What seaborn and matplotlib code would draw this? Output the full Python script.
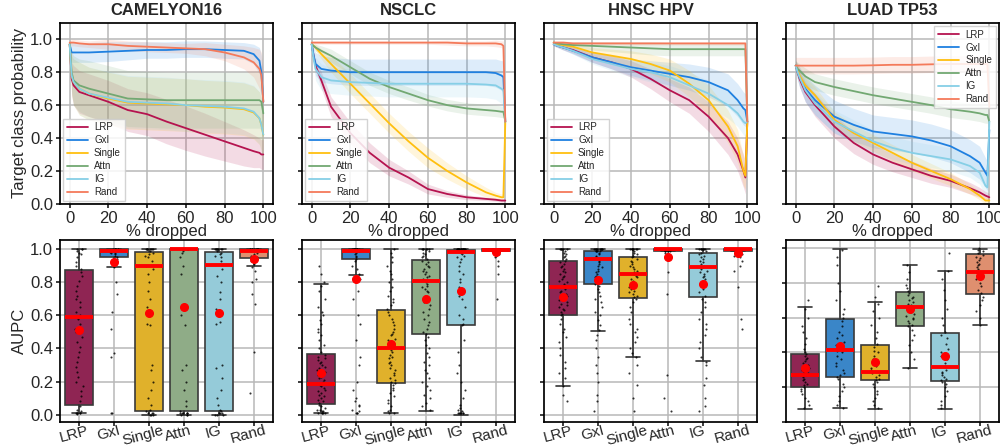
import matplotlib
matplotlib.use("Agg")
import matplotlib.pyplot as plt
import matplotlib.transforms as mtransforms
import numpy as np
import pandas as pd
import seaborn as sns

methods = ["LRP", "GxI", "Single", "Attn", "IG", "Rand"]
datasets = ["CAMELYON16", "NSCLC", "HNSC HPV", "LUAD TP53"]
line_colors = ["#b5134f", "#1f80e0", "#ffbf0f", "#72a872", "#86cfe6", "#f47a5a"]
box_colors = ["#8f2553", "#3a86c8", "#e0b12b", "#8fac87", "#95cbd9", "#df8f6f"]

# % of patches dropped
pct = [0, 1, 2, 5, 10, 20, 30, 40, 50, 60, 70, 80, 90, 95, 98, 99, 100]

# mean target class probability per method (LRP, GxI, Single, Attn, IG, Rand)
cam_mean = [
    [0.97, 0.76, 0.72, 0.68, 0.66, 0.62, 0.57, 0.545, 0.5, 0.46, 0.42, 0.38, 0.34, 0.32, 0.31, 0.3, 0.3],
    [0.97, 0.92, 0.92, 0.92, 0.92, 0.925, 0.93, 0.935, 0.935, 0.94, 0.94, 0.935, 0.93, 0.91, 0.87, 0.8, 0.62],
    [0.97, 0.78, 0.74, 0.7, 0.67, 0.64, 0.615, 0.61, 0.605, 0.6, 0.59, 0.585, 0.575, 0.555, 0.52, 0.48, 0.42],
    [0.97, 0.8, 0.75, 0.72, 0.7, 0.67, 0.64, 0.635, 0.63, 0.63, 0.63, 0.63, 0.63, 0.63, 0.63, 0.62, 0.55],
    [0.97, 0.78, 0.74, 0.7, 0.67, 0.645, 0.62, 0.615, 0.61, 0.6, 0.595, 0.59, 0.58, 0.56, 0.52, 0.48, 0.42],
    [0.98, 0.98, 0.98, 0.975, 0.97, 0.97, 0.96, 0.955, 0.95, 0.945, 0.94, 0.92, 0.89, 0.86, 0.82, 0.78, 0.62],
]
cam_sd = [
    [0.01, 0.1, 0.12, 0.13, 0.13, 0.13, 0.13, 0.13, 0.135, 0.135, 0.13, 0.12, 0.11, 0.1, 0.09, 0.09, 0.09],
    [0.01, 0.06, 0.06, 0.06, 0.06, 0.06, 0.055, 0.05, 0.05, 0.05, 0.05, 0.05, 0.05, 0.06, 0.08, 0.1, 0.15],
    [0.01, 0.12, 0.14, 0.16, 0.16, 0.16, 0.16, 0.16, 0.16, 0.16, 0.16, 0.16, 0.16, 0.16, 0.16, 0.16, 0.15],
    [0.01, 0.12, 0.15, 0.16, 0.17, 0.17, 0.17, 0.17, 0.17, 0.17, 0.17, 0.17, 0.17, 0.17, 0.17, 0.17, 0.15],
    [0.01, 0.12, 0.14, 0.16, 0.16, 0.16, 0.16, 0.16, 0.16, 0.16, 0.16, 0.16, 0.16, 0.16, 0.16, 0.16, 0.15],
    [0.01, 0.02, 0.02, 0.02, 0.02, 0.03, 0.03, 0.03, 0.03, 0.03, 0.04, 0.05, 0.07, 0.09, 0.12, 0.14, 0.18],
]

nsclc_mean = [
    [0.97, 0.9, 0.84, 0.75, 0.59, 0.43, 0.31, 0.22, 0.16, 0.09, 0.06, 0.04, 0.03, 0.025, 0.02, 0.02, 0.02],
    [0.97, 0.9, 0.85, 0.82, 0.81, 0.8, 0.8, 0.8, 0.8, 0.8, 0.8, 0.8, 0.8, 0.795, 0.78, 0.77, 0.5],
    [0.97, 0.96, 0.95, 0.91, 0.85, 0.73, 0.61, 0.49, 0.38, 0.28, 0.2, 0.13, 0.07, 0.05, 0.04, 0.04, 0.5],
    [0.97, 0.96, 0.95, 0.93, 0.9, 0.83, 0.76, 0.71, 0.67, 0.63, 0.6, 0.58, 0.57, 0.565, 0.56, 0.56, 0.5],
    [0.97, 0.88, 0.82, 0.77, 0.75, 0.74, 0.735, 0.73, 0.73, 0.73, 0.73, 0.73, 0.725, 0.72, 0.7, 0.69, 0.5],
    [0.98, 0.98, 0.98, 0.98, 0.98, 0.98, 0.98, 0.98, 0.98, 0.98, 0.98, 0.975, 0.975, 0.975, 0.97, 0.96, 0.5],
]
nsclc_sd = [
    [0.01, 0.02, 0.03, 0.05, 0.06, 0.065, 0.06, 0.05, 0.04, 0.03, 0.02, 0.015, 0.01, 0.01, 0.01, 0.01, 0.01],
    [0.01, 0.05, 0.07, 0.08, 0.08, 0.08, 0.08, 0.08, 0.08, 0.08, 0.08, 0.08, 0.08, 0.085, 0.09, 0.1, 0.1],
    [0.01, 0.01, 0.02, 0.03, 0.05, 0.06, 0.06, 0.06, 0.06, 0.06, 0.05, 0.04, 0.03, 0.02, 0.02, 0.02, 0.05],
    [0.01, 0.01, 0.02, 0.03, 0.04, 0.04, 0.04, 0.04, 0.04, 0.035, 0.035, 0.035, 0.035, 0.035, 0.035, 0.035, 0.05],
    [0.01, 0.05, 0.07, 0.08, 0.08, 0.08, 0.08, 0.08, 0.08, 0.08, 0.08, 0.08, 0.08, 0.085, 0.09, 0.1, 0.1],
    [0.01, 0.01, 0.01, 0.01, 0.01, 0.01, 0.01, 0.01, 0.01, 0.01, 0.015, 0.015, 0.015, 0.02, 0.02, 0.03, 0.05],
]

hnsc_mean = [
    [0.97, 0.965, 0.96, 0.95, 0.935, 0.89, 0.86, 0.82, 0.76, 0.69, 0.63, 0.53, 0.4, 0.3, 0.2, 0.16, 0.5],
    [0.97, 0.965, 0.96, 0.95, 0.93, 0.89, 0.86, 0.83, 0.81, 0.79, 0.77, 0.74, 0.69, 0.63, 0.58, 0.57, 0.5],
    [0.98, 0.975, 0.97, 0.965, 0.955, 0.92, 0.9, 0.88, 0.85, 0.81, 0.73, 0.63, 0.47, 0.35, 0.2, 0.17, 0.5],
    [0.98, 0.975, 0.975, 0.97, 0.965, 0.96, 0.955, 0.95, 0.945, 0.94, 0.94, 0.94, 0.94, 0.94, 0.94, 0.94, 0.5],
    [0.97, 0.965, 0.96, 0.95, 0.93, 0.88, 0.85, 0.82, 0.8, 0.77, 0.72, 0.67, 0.6, 0.55, 0.5, 0.49, 0.5],
    [0.98, 0.98, 0.98, 0.98, 0.975, 0.975, 0.975, 0.975, 0.975, 0.975, 0.975, 0.975, 0.975, 0.975, 0.975, 0.975, 0.5],
]
hnsc_sd = [
    [0.01, 0.01, 0.01, 0.015, 0.02, 0.03, 0.04, 0.05, 0.06, 0.07, 0.08, 0.09, 0.1, 0.1, 0.1, 0.1, 0.05],
    [0.01, 0.01, 0.01, 0.015, 0.02, 0.03, 0.04, 0.05, 0.06, 0.07, 0.08, 0.09, 0.1, 0.1, 0.1, 0.1, 0.05],
    [0.01, 0.01, 0.01, 0.015, 0.02, 0.03, 0.04, 0.05, 0.06, 0.07, 0.08, 0.09, 0.1, 0.1, 0.09, 0.08, 0.05],
    [0.01, 0.01, 0.01, 0.015, 0.02, 0.025, 0.03, 0.035, 0.04, 0.04, 0.04, 0.04, 0.04, 0.04, 0.04, 0.04, 0.05],
    [0.01, 0.01, 0.01, 0.015, 0.02, 0.03, 0.04, 0.05, 0.06, 0.07, 0.08, 0.08, 0.08, 0.08, 0.08, 0.08, 0.05],
    [0.01, 0.01, 0.01, 0.01, 0.01, 0.01, 0.01, 0.01, 0.01, 0.01, 0.01, 0.01, 0.01, 0.01, 0.01, 0.01, 0.05],
]

luad_mean = [
    [0.84, 0.8, 0.76, 0.68, 0.6, 0.47, 0.37, 0.3, 0.25, 0.21, 0.17, 0.14, 0.095, 0.07, 0.05, 0.045, 0.04],
    [0.84, 0.8, 0.77, 0.7, 0.63, 0.53, 0.48, 0.44, 0.425, 0.41, 0.385, 0.35, 0.29, 0.25, 0.19, 0.17, 0.45],
    [0.84, 0.81, 0.78, 0.72, 0.66, 0.51, 0.43, 0.37, 0.31, 0.25, 0.2, 0.15, 0.09, 0.05, 0.02, 0.02, 0.02],
    [0.84, 0.82, 0.81, 0.775, 0.74, 0.71, 0.685, 0.66, 0.64, 0.62, 0.6, 0.575, 0.56, 0.55, 0.54, 0.54, 0.5],
    [0.84, 0.8, 0.77, 0.69, 0.61, 0.5, 0.44, 0.38, 0.34, 0.31, 0.29, 0.27, 0.23, 0.19, 0.11, 0.1, 0.5],
    [0.84, 0.84, 0.84, 0.84, 0.84, 0.84, 0.84, 0.842, 0.845, 0.845, 0.848, 0.85, 0.85, 0.85, 0.85, 0.85, 0.59],
]
luad_sd = [
    [0.03, 0.04, 0.05, 0.06, 0.07, 0.07, 0.065, 0.06, 0.055, 0.05, 0.045, 0.04, 0.035, 0.03, 0.025, 0.025, 0.02],
    [0.03, 0.05, 0.06, 0.08, 0.09, 0.1, 0.1, 0.1, 0.1, 0.1, 0.1, 0.1, 0.1, 0.1, 0.09, 0.09, 0.05],
    [0.03, 0.04, 0.04, 0.05, 0.05, 0.05, 0.05, 0.05, 0.05, 0.05, 0.045, 0.04, 0.03, 0.025, 0.02, 0.02, 0.02],
    [0.03, 0.04, 0.04, 0.05, 0.05, 0.05, 0.05, 0.05, 0.05, 0.05, 0.05, 0.05, 0.05, 0.05, 0.05, 0.05, 0.05],
    [0.03, 0.05, 0.06, 0.07, 0.07, 0.07, 0.07, 0.07, 0.07, 0.07, 0.07, 0.07, 0.07, 0.07, 0.06, 0.06, 0.05],
    [0.05, 0.05, 0.05, 0.05, 0.05, 0.05, 0.05, 0.05, 0.05, 0.05, 0.05, 0.05, 0.05, 0.05, 0.05, 0.05, 0.05],
]

# AUPC box statistics per method
cam_q1 = [0.056, 0.953, 0.022, 0.022, 0.022, 0.944]
cam_med = [0.59, 0.99, 0.90, 1.0, 0.905, 0.99]
cam_q3 = [0.873, 1.0, 0.985, 1.0, 0.985, 1.0]
cam_wlo = [0.01, 0.89, 0.0, 0.0, 0.0, 0.90]
cam_whi = [1.0, 1.0, 1.0, 1.0, 1.0, 1.0]
cam_avg = [0.51, 0.92, 0.616, 0.65, 0.615, 0.938]

nsclc_q1 = [0.066, 0.938, 0.19, 0.488, 0.542, 0.99]
nsclc_med = [0.187, 0.99, 0.405, 0.805, 0.985, 0.995]
nsclc_q3 = [0.365, 1.0, 0.63, 0.934, 0.995, 1.0]
nsclc_wlo = [0.01, 0.843, 0.01, 0.024, 0.0, 0.99]
nsclc_whi = [0.787, 1.0, 1.0, 1.0, 1.0, 1.0]
nsclc_avg = [0.25, 0.817, 0.425, 0.70, 0.749, 0.985]

hnsc_q1 = [0.602, 0.787, 0.707, 0.99, 0.713, 0.99]
hnsc_med = [0.773, 0.942, 0.849, 1.0, 0.893, 1.0]
hnsc_q3 = [0.93, 0.988, 0.95, 1.0, 0.978, 1.0]
hnsc_wlo = [0.17, 0.508, 0.347, 0.99, 0.321, 0.99]
hnsc_whi = [1.0, 1.0, 1.0, 1.0, 1.0, 1.0]
hnsc_avg = [0.713, 0.813, 0.783, 0.95, 0.787, 0.975]

luad_q1 = [0.202, 0.26, 0.243, 0.55, 0.237, 0.738]
luad_med = [0.269, 0.411, 0.288, 0.662, 0.318, 0.864]
luad_q3 = [0.39, 0.589, 0.44, 0.748, 0.512, 0.964]
luad_wlo = [0.075, 0.079, 0.075, 0.308, 0.075, 0.555]
luad_whi = [0.658, 0.994, 0.688, 0.90, 0.869, 0.996]
luad_avg = [0.31, 0.436, 0.346, 0.647, 0.38, 0.841]

# per-slide AUPC values (strip points)
cam_pts = [
    [1.0, 1.0, 1.0, 0.99, 0.98, 0.97, 0.95, 0.92, 0.9, 0.88, 0.86, 0.84, 0.81, 0.78, 0.75, 0.72, 0.7, 0.68,
     0.65, 0.62, 0.6, 0.58, 0.55, 0.52, 0.5, 0.47, 0.44, 0.41, 0.38, 0.35, 0.32, 0.29, 0.26, 0.23, 0.2, 0.17,
     0.14, 0.11, 0.08, 0.05, 0.03, 0.02, 0.01, 0.01, 0.01, 0.01, 0.01, 0.005],
    [1.0] * 7 + [0.995, 0.99, 0.99, 0.99, 0.985, 0.98, 0.98, 0.97, 0.96, 0.95, 0.94, 0.93, 0.91, 0.89,
                 0.8, 0.73, 0.62, 0.52, 0.37, 0.35, 0.01, 0.01],
    [1.0] * 8 + [0.99, 0.98, 0.97, 0.96, 0.95, 0.93, 0.9, 0.88, 0.85, 0.8, 0.75, 0.7, 0.65, 0.55, 0.54, 0.3,
                 0.27, 0.2, 0.15, 0.1, 0.06, 0.03, 0.02, 0.01, 0.01, 0.01, 0.0, 0.0, 0.0],
    [1.0] * 12 + [0.99, 0.98, 0.95, 0.9, 0.85, 0.6, 0.54, 0.3, 0.27, 0.2, 0.15, 0.08, 0.05, 0.02]
    + [0.01] * 6 + [0.0] * 3,
    [1.0] * 8 + [0.99, 0.98, 0.97, 0.96, 0.95, 0.93, 0.91, 0.88, 0.84, 0.8, 0.74, 0.7, 0.64, 0.56, 0.55, 0.3,
                 0.28, 0.22, 0.15, 0.1, 0.06, 0.03, 0.02, 0.01, 0.01, 0.01, 0.0, 0.0, 0.0],
    [1.0] * 10 + [0.99, 0.99, 0.98, 0.97, 0.96, 0.95, 0.93, 0.91, 0.89, 0.87, 0.82, 0.8, 0.73, 0.67, 0.38, 0.13],
]
nsclc_pts = [
    [0.9, 0.85, 0.8, 0.78, 0.75, 0.7, 0.65, 0.62, 0.6, 0.57, 0.55, 0.52, 0.5, 0.48, 0.45, 0.42, 0.4, 0.38,
     0.36, 0.35, 0.34, 0.33, 0.32, 0.31, 0.3, 0.29, 0.28, 0.27, 0.26, 0.25, 0.24, 0.23, 0.22, 0.21, 0.2, 0.19,
     0.18, 0.17, 0.16, 0.15, 0.14, 0.13, 0.12, 0.11, 0.1, 0.09, 0.08, 0.07, 0.06, 0.05, 0.04, 0.03, 0.03,
     0.02, 0.02, 0.01, 0.01, 0.01, 0.01, 0.01],
    [1.0] * 15 + [0.99] * 5 + [0.98, 0.97, 0.96, 0.95, 0.94, 0.93, 0.9, 0.88, 0.85, 0.82, 0.75, 0.7, 0.6,
                               0.55, 0.45, 0.35, 0.3, 0.2, 0.15, 0.1, 0.08, 0.06, 0.05, 0.03, 0.02, 0.01,
                               0.01, 0.01],
    [1.0, 0.98, 0.95, 0.92, 0.9, 0.87, 0.85, 0.82, 0.8, 0.77, 0.75, 0.72, 0.7, 0.68, 0.66, 0.64, 0.62, 0.6,
     0.58, 0.56, 0.54, 0.52, 0.5, 0.49, 0.48, 0.46, 0.45, 0.44, 0.42, 0.41, 0.4, 0.39, 0.38, 0.36, 0.35, 0.34,
     0.32, 0.31, 0.3, 0.28, 0.27, 0.25, 0.24, 0.22, 0.21, 0.2, 0.19, 0.18, 0.16, 0.15, 0.13, 0.11, 0.09, 0.07,
     0.05, 0.03, 0.02, 0.01, 0.01],
    [1.0] * 6 + [0.99, 0.98, 0.97, 0.96, 0.95, 0.94, 0.93, 0.92, 0.91, 0.9, 0.89, 0.88, 0.87, 0.86, 0.85,
                 0.84, 0.83, 0.82, 0.81, 0.8, 0.79, 0.78, 0.77, 0.76, 0.75, 0.74, 0.72, 0.7, 0.68, 0.66,
                 0.64, 0.62, 0.6, 0.58, 0.56, 0.54, 0.52, 0.5, 0.49, 0.47, 0.45, 0.42, 0.4, 0.37, 0.35, 0.32,
                 0.3, 0.27, 0.25, 0.22, 0.2, 0.17, 0.15, 0.12, 0.1, 0.07, 0.05, 0.03],
    [1.0] * 20 + [0.99] * 5 + [0.98, 0.97, 0.96, 0.95, 0.94, 0.92, 0.9, 0.87, 0.85, 0.82, 0.8, 0.77, 0.75,
                               0.72, 0.7, 0.65, 0.6, 0.58, 0.55, 0.54, 0.45, 0.38, 0.3, 0.25, 0.2, 0.15, 0.1,
                               0.06, 0.04, 0.03, 0.02] + [0.01] * 6,
    [1.0] * 15 + [0.995, 0.99, 0.99, 0.98, 0.97, 0.96, 0.95, 0.93, 0.9, 0.85, 0.7],
]
hnsc_pts = [
    [1.0] * 6 + [0.99, 0.98, 0.97, 0.96, 0.95, 0.94, 0.93, 0.92, 0.91, 0.9, 0.89, 0.88, 0.87, 0.86, 0.85,
                 0.84, 0.83, 0.82, 0.81, 0.8, 0.79, 0.78, 0.77, 0.76, 0.75, 0.74, 0.73, 0.72, 0.71, 0.7,
                 0.69, 0.68, 0.67, 0.66, 0.65, 0.64, 0.63, 0.62, 0.61, 0.6, 0.58, 0.55, 0.52, 0.5, 0.47,
                 0.44, 0.4, 0.36, 0.32, 0.28, 0.25, 0.22, 0.17, 0.12, 0.08],
    [1.0] * 10 + [0.99] * 4 + [0.98, 0.97, 0.96, 0.95, 0.94, 0.93, 0.92, 0.91, 0.9, 0.89, 0.88, 0.87, 0.86,
                               0.85, 0.84, 0.83, 0.82, 0.8, 0.79, 0.78, 0.76, 0.74, 0.72, 0.7, 0.68, 0.65,
                               0.62, 0.6, 0.57, 0.54, 0.51, 0.48, 0.45, 0.4, 0.35, 0.3, 0.25, 0.2, 0.12, 0.08,
                               0.02],
    [1.0] * 8 + [0.99, 0.98, 0.97, 0.96, 0.95, 0.94, 0.93, 0.92, 0.91, 0.9, 0.89, 0.88, 0.87, 0.86, 0.85,
                 0.84, 0.83, 0.82, 0.81, 0.8, 0.79, 0.78, 0.77, 0.76, 0.75, 0.74, 0.73, 0.72, 0.71, 0.7,
                 0.68, 0.65, 0.62, 0.58, 0.55, 0.52, 0.5, 0.47, 0.44, 0.4, 0.37, 0.35, 0.3, 0.25, 0.18,
                 0.1, 0.02],
    [1.0] * 25 + [0.99] * 5 + [0.98, 0.97, 0.86, 0.73, 0.24, 0.1, 0.02],
    [1.0] * 8 + [0.99, 0.98, 0.97, 0.96, 0.95, 0.94, 0.93, 0.92, 0.91, 0.9, 0.89, 0.88, 0.87, 0.86, 0.85,
                 0.84, 0.83, 0.82, 0.81, 0.8, 0.78, 0.76, 0.74, 0.72, 0.7, 0.68, 0.65, 0.62, 0.58, 0.55,
                 0.52, 0.48, 0.44, 0.4, 0.35, 0.32, 0.3, 0.22, 0.18, 0.1, 0.05, 0.02],
    [1.0] * 20 + [0.99] * 3 + [0.98, 0.97, 0.96, 0.95, 0.93, 0.9, 0.87, 0.77, 0.58, 0.52],
]
luad_pts = [
    [0.7, 0.65, 0.6, 0.55, 0.52, 0.48, 0.45, 0.42, 0.4, 0.39, 0.38, 0.37, 0.36, 0.35, 0.34, 0.33, 0.32, 0.31,
     0.3, 0.3, 0.29, 0.28, 0.27, 0.26, 0.25, 0.24, 0.23, 0.22, 0.21, 0.2, 0.19, 0.18, 0.16, 0.14, 0.12, 0.1,
     0.08],
    [0.99, 0.95, 0.9, 0.8, 0.75, 0.7, 0.65, 0.62, 0.6, 0.58, 0.55, 0.52, 0.5, 0.48, 0.46, 0.44, 0.42, 0.41,
     0.4, 0.38, 0.36, 0.34, 0.32, 0.3, 0.28, 0.27, 0.26, 0.25, 0.22, 0.2, 0.18, 0.15, 0.12, 0.1, 0.08],
    [0.78, 0.72, 0.68, 0.64, 0.6, 0.56, 0.52, 0.48, 0.45, 0.43, 0.41, 0.4, 0.38, 0.36, 0.34, 0.32, 0.31, 0.3,
     0.29, 0.28, 0.27, 0.26, 0.25, 0.24, 0.23, 0.22, 0.2, 0.18, 0.16, 0.14, 0.12, 0.1, 0.08],
    [0.9, 0.86, 0.82, 0.79, 0.77, 0.75, 0.74, 0.73, 0.72, 0.71, 0.7, 0.69, 0.68, 0.67, 0.66, 0.65, 0.64, 0.63,
     0.62, 0.61, 0.6, 0.59, 0.58, 0.57, 0.56, 0.55, 0.53, 0.5, 0.47, 0.44, 0.4, 0.36, 0.31],
    [0.97, 0.87, 0.82, 0.76, 0.7, 0.65, 0.6, 0.56, 0.52, 0.5, 0.48, 0.45, 0.42, 0.4, 0.38, 0.36, 0.34, 0.32,
     0.3, 0.29, 0.28, 0.27, 0.26, 0.25, 0.24, 0.23, 0.22, 0.2, 0.18, 0.15, 0.12, 0.1, 0.08],
    [1.0, 0.99, 0.98, 0.97, 0.96, 0.95, 0.94, 0.93, 0.92, 0.91, 0.9, 0.89, 0.88, 0.87, 0.86, 0.85, 0.84, 0.83,
     0.82, 0.8, 0.78, 0.76, 0.74, 0.72, 0.7, 0.67, 0.64, 0.6, 0.56],
]

curves = [(cam_mean, cam_sd), (nsclc_mean, nsclc_sd), (hnsc_mean, hnsc_sd), (luad_mean, luad_sd)]
boxes = [
    (cam_q1, cam_med, cam_q3, cam_wlo, cam_whi, cam_avg, cam_pts),
    (nsclc_q1, nsclc_med, nsclc_q3, nsclc_wlo, nsclc_whi, nsclc_avg, nsclc_pts),
    (hnsc_q1, hnsc_med, hnsc_q3, hnsc_wlo, hnsc_whi, hnsc_avg, hnsc_pts),
    (luad_q1, luad_med, luad_q3, luad_wlo, luad_whi, luad_avg, luad_pts),
]

sns.set_theme(style="ticks")
plt.rcParams["font.family"] = ["Liberation Sans", "DejaVu Sans"]
plt.rcParams["axes.edgecolor"] = "black"

fig = plt.figure(figsize=(10, 4.48), dpi=100)
lefts = [0.06, 0.302, 0.544, 0.786]
grid_kw = dict(color="#b8b8b8", linewidth=1.1)
shift = mtransforms.ScaledTranslation(-4 / 72, 2 / 72, fig.dpi_scale_trans)

for i, name in enumerate(datasets):
    # top: perturbation curves
    ax = fig.add_axes([lefts[i], 0.545, 0.213, 0.404])
    mean, sd = curves[i]
    for j, m in enumerate(methods):
        mu = np.array(mean[j])
        s = np.array(sd[j])
        ax.fill_between(pct, np.clip(mu - s, 0, 1), np.clip(mu + s, 0, 1),
                        color=line_colors[j], alpha=0.15, linewidth=0)
        sns.lineplot(x=pct, y=mean[j], color=line_colors[j], linewidth=1.3, label=m, ax=ax)
    ax.set_xlim(-5, 105)
    ax.set_ylim(0, 1.1)
    ax.set_xticks([0, 20, 40, 60, 80, 100])
    ax.set_yticks([0.0, 0.2, 0.4, 0.6, 0.8, 1.0])
    ax.grid(True, **grid_kw)
    ax.tick_params(labelsize=12, length=3, pad=2)
    ax.set_xlabel("% dropped", fontsize=12, labelpad=-1)
    ax.set_title(name, fontsize=12, fontweight="bold", pad=6)
    if i == 0:
        ax.set_ylabel("Target class probability", fontsize=12, labelpad=2)
    else:
        ax.set_yticklabels([])
    loc = "upper right" if i == 3 else "lower left"
    ax.legend(loc=loc, fontsize=7, handlelength=2.2, handletextpad=0.6, borderpad=0.4,
              labelspacing=0.3, framealpha=0.85, edgecolor="#cccccc", fancybox=False,
              borderaxespad=0.3)

    # bottom: AUPC boxplots
    bx = fig.add_axes([lefts[i], 0.058, 0.213, 0.406])
    q1, med, q3, wlo, whi, avg, pts = boxes[i]
    stats = [dict(q1=q1[j], med=med[j], q3=q3[j], whislo=wlo[j], whishi=whi[j],
                  mean=avg[j], fliers=[]) for j in range(len(methods))]
    art = bx.bxp(stats, positions=range(len(methods)), widths=0.8, patch_artist=True,
                 showmeans=True, showfliers=False, manage_ticks=False,
                 boxprops=dict(edgecolor="#3a3a3a", linewidth=1.2),
                 whiskerprops=dict(color="#333333", linewidth=1.2),
                 capprops=dict(color="#333333", linewidth=1.2),
                 medianprops=dict(color="red", linewidth=2.8),
                 meanprops=dict(marker="o", markerfacecolor="red", markeredgecolor="red", markersize=5.5))
    for patch, c in zip(art["boxes"], box_colors):
        patch.set_facecolor(c)
    for ln in art["medians"] + art["means"]:
        ln.set_zorder(5)
    long_df = pd.DataFrame({
        "method": [m for j, m in enumerate(methods) for _ in pts[j]],
        "AUPC": [v for j in range(len(methods)) for v in pts[j]],
    })
    sns.stripplot(data=long_df, x="method", y="AUPC", order=methods, color="black", size=1.5,
                  jitter=0.12, alpha=0.8, zorder=4, ax=bx)
    bx.set_xlim(-0.55, 5.55)
    if i == 3:
        bx.set_ylim(0.025, 1.045)
    else:
        bx.set_ylim(-0.045, 1.055)
    bx.set_yticks([0.0, 0.2, 0.4, 0.6, 0.8, 1.0])
    bx.grid(True, **grid_kw)
    bx.set_axisbelow(True)
    bx.set_xlabel("")
    bx.tick_params(axis="y", labelsize=12, length=3, pad=2)
    bx.tick_params(axis="x", labelsize=11, length=3, pad=0)
    bx.set_xticks(range(len(methods)))
    bx.set_xticklabels(methods, rotation=15)
    for lbl in bx.get_xticklabels():
        lbl.set_transform(lbl.get_transform() + shift)
    if i == 0:
        bx.set_ylabel("AUPC", fontsize=12, labelpad=2)
    else:
        bx.set_ylabel("")
        bx.set_yticklabels([])

fig.savefig("out.png", dpi=100)
